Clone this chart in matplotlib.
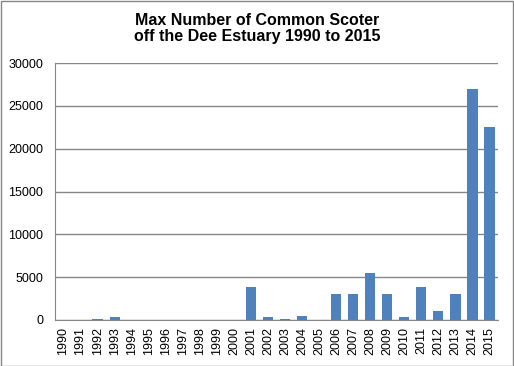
import matplotlib.pyplot as plt
from matplotlib.patches import Rectangle

years = [str(y) for y in range(1990, 2016)]
counts = [0, 0, 150, 400, 0, 0, 0, 0, 0, 0, 0, 3900, 400, 150, 500, 0,
          3000, 3000, 5500, 3000, 300, 3900, 1000, 3000, 27000, 22500]
yticks = [0, 5000, 10000, 15000, 20000, 25000, 30000]

plt.rcParams['font.family'] = ['Liberation Sans', 'DejaVu Sans']

fig = plt.figure(figsize=(5.14, 3.66), dpi=100)
ax = fig.add_axes([55 / 514, 46 / 366, 443 / 514, 257 / 366])

ax.bar(range(len(years)), counts, width=0.6, color='#4F81BD', zorder=3)

ax.set_xlim(-0.5, len(years) - 0.5)
ax.set_ylim(0, 30000)
ax.set_yticks(yticks)
ax.set_yticklabels([str(t) for t in yticks], fontsize=9)
ax.set_xticks(range(len(years)))
ax.set_xticklabels(years, rotation=90, fontsize=9)
ax.tick_params(axis='x', length=0, pad=5)
ax.tick_params(axis='y', length=0, pad=8.5)
ax.yaxis.grid(True, color='#868686', linewidth=1, zorder=0)

for side in ['top', 'right']:
    ax.spines[side].set_visible(False)
for side in ['left', 'bottom']:
    ax.spines[side].set_color('#868686')

fig.text(0.5, 0.922, 'Max Number of Common Scoter\noff the Dee Estuary 1990 to 2015',
         ha='center', va='center', fontsize=11.5, fontweight='bold', linespacing=1.1)

fig.patches.append(Rectangle((0.001, 0.001), 0.997, 0.997, transform=fig.transFigure,
                             fill=False, edgecolor='#868686', linewidth=1))

fig.savefig('out.png', dpi=100)
